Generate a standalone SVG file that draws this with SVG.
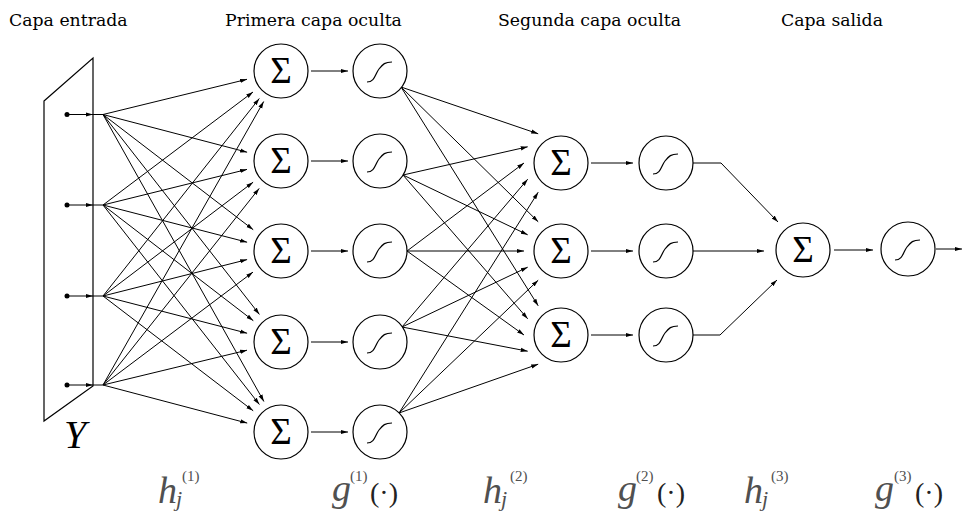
<svg xmlns="http://www.w3.org/2000/svg" width="964" height="511" viewBox="0 0 964 511">
<defs>
<style>
.n{fill:#fff;stroke:#000;stroke-width:1.2}
.c{stroke:#000;stroke-width:1;fill:none}
.a{marker-end:url(#ah)}
.sg{font-family:"Liberation Serif",serif;font-size:37px;text-anchor:middle;fill:#000}
.s{fill:none;stroke:#000;stroke-width:1.2}
.t{font-family:"DejaVu Serif","Liberation Serif",serif;font-size:17.3px;fill:#000}
.m{font-family:"Liberation Serif",serif;fill:#505050}
.i{font-style:italic}
</style>
<marker id="ah" markerWidth="8" markerHeight="6" refX="7" refY="3" orient="auto" markerUnits="userSpaceOnUse"><path d="M0,0.9 L7,3 L0,5.1 z" fill="#000"/></marker>
<path id="sig" d="M-13,11 C-5,11 -5,3 -1,-2 S5,-9 12,-9"/>
</defs>
<rect width="964" height="511" fill="#fff"/>

<g id="labels">
<text class="t" x="9" y="26">Capa entrada</text>
<text class="t" x="225" y="26">Primera capa oculta</text>
<text class="t" x="498" y="26">Segunda capa oculta</text>
<text class="t" x="781" y="26">Capa salida</text>
</g>

<g id="input">
<polygon points="44,101 93,58 93,386 44,421" fill="none" stroke="#000" stroke-width="1.2"/>
<text x="64" y="448" font-family="Liberation Serif,serif" font-style="italic" font-size="40">Y</text>
<circle cx="67" cy="114.5" r="2.5"/><circle cx="67" cy="205" r="2.5"/><circle cx="67" cy="296" r="2.5"/><circle cx="67" cy="385" r="2.5"/>
</g>

<g id="connectors">
<g class="c">
<line class="a" x1="67" y1="114.5" x2="93" y2="114.5"/><line x1="93" y1="114.5" x2="103" y2="114.5"/>
<line class="a" x1="67" y1="205" x2="93" y2="205"/><line x1="93" y1="205" x2="103" y2="205"/>
<line class="a" x1="67" y1="296" x2="93" y2="296"/><line x1="93" y1="296" x2="103" y2="296"/>
<line class="a" x1="67" y1="385" x2="93" y2="385"/><line x1="93" y1="385" x2="103" y2="385"/>
<!-- input 1 -->
<line class="a" x1="103" y1="114.5" x2="247.0" y2="79.3"/>
<line class="a" x1="103" y1="114.5" x2="247.1" y2="152.2"/>
<line class="a" x1="103" y1="114.5" x2="253.2" y2="229.7"/>
<line class="a" x1="103" y1="114.5" x2="259.4" y2="314.4"/>
<line class="a" x1="103" y1="114.5" x2="263.9" y2="401.5"/>
<!-- input 2 -->
<line class="a" x1="103" y1="205" x2="253.0" y2="92.0"/>
<line class="a" x1="103" y1="205" x2="247.0" y2="169.4"/>
<line class="a" x1="103" y1="205" x2="247.1" y2="242.2"/>
<line class="a" x1="103" y1="205" x2="253.3" y2="320.7"/>
<line class="a" x1="103" y1="205" x2="259.4" y2="404.5"/>
<!-- input 3 -->
<line class="a" x1="103" y1="296" x2="259.3" y2="98.5"/>
<line class="a" x1="103" y1="296" x2="253.1" y2="182.2"/>
<line class="a" x1="103" y1="296" x2="247.1" y2="259.6"/>
<line class="a" x1="103" y1="296" x2="247.1" y2="333.2"/>
<line class="a" x1="103" y1="296" x2="253.2" y2="410.8"/>
<!-- input 4 -->
<line class="a" x1="103" y1="385" x2="263.7" y2="101.5"/>
<line class="a" x1="103" y1="385" x2="259.2" y2="188.4"/>
<line class="a" x1="103" y1="385" x2="253.0" y2="272.1"/>
<line class="a" x1="103" y1="385" x2="247.0" y2="350.2"/>
<line class="a" x1="103" y1="385" x2="247.2" y2="423.1"/>
<!-- L1 sum -> sigmoid -->
<line class="a" x1="311" y1="71" x2="348" y2="71"/>
<line class="a" x1="311" y1="161" x2="348" y2="161"/>
<line class="a" x1="311" y1="251" x2="348" y2="251"/>
<line class="a" x1="311" y1="342" x2="348" y2="342"/>
<line class="a" x1="311" y1="432" x2="348" y2="432"/>
<!-- L1 sigmoid -> L2 sum -->
<line class="a" x1="401" y1="87" x2="538.2" y2="133.8"/>
<line class="a" x1="401" y1="87" x2="538.2" y2="221.8"/>
<line class="a" x1="401" y1="87" x2="538.2" y2="305.8"/>
<line class="a" x1="403" y1="175" x2="527.7" y2="146.8"/>
<line class="a" x1="403" y1="175" x2="527.7" y2="234.8"/>
<line class="a" x1="403" y1="175" x2="527.7" y2="318.8"/>
<line class="a" x1="407" y1="251" x2="524" y2="163"/>
<line class="a" x1="407" y1="251" x2="524" y2="251"/>
<line class="a" x1="407" y1="251" x2="524" y2="335"/>
<line class="a" x1="402" y1="327" x2="527.7" y2="179.2"/>
<line class="a" x1="402" y1="327" x2="527.7" y2="267.2"/>
<line class="a" x1="402" y1="327" x2="527.7" y2="351.2"/>
<line class="a" x1="399" y1="413" x2="538.2" y2="192.2"/>
<line class="a" x1="399" y1="413" x2="538.2" y2="280.2"/>
<line class="a" x1="399" y1="413" x2="538.2" y2="364.2"/>
<!-- L2 sum -> sigmoid -->
<line class="a" x1="591" y1="163" x2="633" y2="163"/>
<line class="a" x1="591" y1="251" x2="633" y2="251"/>
<line class="a" x1="591" y1="335" x2="633" y2="335"/>
<!-- L2 sigmoid -> output sum -->
<polyline class="a" points="693,163 721,163 778,222"/>
<line class="a" x1="693" y1="251" x2="764" y2="251"/>
<polyline class="a" points="693,335 720,335 777,280"/>
<!-- output -->
<line class="a" x1="834" y1="250" x2="873" y2="250"/>
<line class="a" x1="936" y1="249" x2="962" y2="249"/>
</g>
</g>

<g id="h1s1"><circle class="n" cx="281" cy="71" r="27"/><text class="sg" x="281" y="83">Σ</text></g>
<g id="h1s2"><circle class="n" cx="281" cy="161" r="27"/><text class="sg" x="281" y="173">Σ</text></g>
<g id="h1s3"><circle class="n" cx="281" cy="251" r="27"/><text class="sg" x="281" y="263">Σ</text></g>
<g id="h1s4"><circle class="n" cx="281" cy="342" r="27"/><text class="sg" x="281" y="354">Σ</text></g>
<g id="h1s5"><circle class="n" cx="281" cy="432" r="27"/><text class="sg" x="281" y="444">Σ</text></g>

<g id="h1g1"><circle class="n" cx="380" cy="71" r="27"/><use href="#sig" class="s" x="380" y="71"/></g>
<g id="h1g2"><circle class="n" cx="380" cy="161" r="27"/><use href="#sig" class="s" x="380" y="161"/></g>
<g id="h1g3"><circle class="n" cx="380" cy="251" r="27"/><use href="#sig" class="s" x="380" y="251"/></g>
<g id="h1g4"><circle class="n" cx="380" cy="342" r="27"/><use href="#sig" class="s" x="380" y="342"/></g>
<g id="h1g5"><circle class="n" cx="380" cy="432" r="27"/><use href="#sig" class="s" x="380" y="432"/></g>

<g id="h2s1"><circle class="n" cx="561" cy="163" r="27"/><text class="sg" x="561" y="175">Σ</text></g>
<g id="h2s2"><circle class="n" cx="561" cy="251" r="27"/><text class="sg" x="561" y="263">Σ</text></g>
<g id="h2s3"><circle class="n" cx="561" cy="335" r="27"/><text class="sg" x="561" y="347">Σ</text></g>

<g id="h2g1"><circle class="n" cx="666" cy="163" r="27"/><use href="#sig" class="s" x="666" y="163"/></g>
<g id="h2g2"><circle class="n" cx="666" cy="251" r="27"/><use href="#sig" class="s" x="666" y="251"/></g>
<g id="h2g3"><circle class="n" cx="666" cy="335" r="27"/><use href="#sig" class="s" x="666" y="335"/></g>

<g id="os"><circle class="n" cx="803" cy="250" r="27"/><text class="sg" x="803" y="262">Σ</text></g>
<g id="og"><circle class="n" cx="908" cy="249" r="27"/><use href="#sig" class="s" x="908" y="249"/></g>

<g id="math" class="m">
<text class="i" x="158" y="503" font-size="38">h</text>
<text class="i" x="176" y="506" font-size="22">j</text>
<text x="182" y="481" font-size="15">(1)</text>
<text class="i" x="332" y="501" font-size="38">g</text>
<text x="350" y="481" font-size="15">(1)</text>
<text x="370" y="502" font-size="28" fill="#222">(·)</text>

<text class="i" x="483" y="503" font-size="38">h</text>
<text class="i" x="501" y="506" font-size="22">j</text>
<text x="510" y="481" font-size="15">(2)</text>
<text class="i" x="618" y="501" font-size="38">g</text>
<text x="636" y="481" font-size="15">(2)</text>
<text x="657" y="502" font-size="28" fill="#222">(·)</text>

<text class="i" x="744" y="503" font-size="38">h</text>
<text class="i" x="762" y="506" font-size="22">j</text>
<text x="771" y="481" font-size="15">(3)</text>
<text class="i" x="875" y="501" font-size="38">g</text>
<text x="894" y="481" font-size="15">(3)</text>
<text x="915" y="502" font-size="28" fill="#222">(·)</text>
</g>
</svg>
